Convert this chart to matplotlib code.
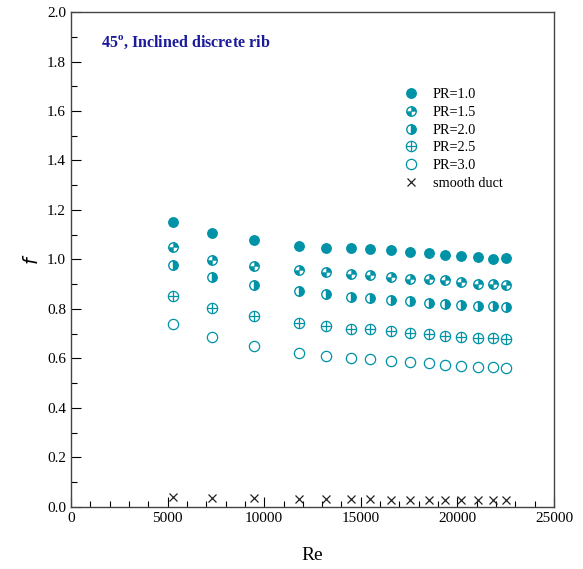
import numpy as np
import matplotlib
matplotlib.use("Agg")
import matplotlib.pyplot as plt
from matplotlib.path import Path
from matplotlib.legend_handler import HandlerTuple
from matplotlib.ticker import MultipleLocator

plt.rcParams['font.family'] = ['Liberation Serif', 'DejaVu Serif']

re = [5300, 7300, 9450, 11780, 13200, 14500, 15500, 16580, 17530, 18530,
      19380, 20200, 21040, 21850, 22540]
f_pr10 = [1.150, 1.106, 1.078, 1.055, 1.048, 1.048, 1.041, 1.038, 1.030, 1.025,
          1.019, 1.014, 1.009, 1.002, 1.005]
f_pr15 = [1.050, 0.998, 0.975, 0.956, 0.949, 0.941, 0.936, 0.928, 0.923, 0.920,
          0.916, 0.908, 0.901, 0.900, 0.897]
f_pr20 = [0.979, 0.928, 0.897, 0.873, 0.859, 0.850, 0.843, 0.836, 0.832, 0.826,
          0.820, 0.816, 0.812, 0.812, 0.809]
f_pr25 = [0.854, 0.803, 0.772, 0.743, 0.733, 0.719, 0.718, 0.711, 0.704, 0.698,
          0.691, 0.688, 0.682, 0.682, 0.679]
f_pr30 = [0.738, 0.686, 0.649, 0.624, 0.611, 0.603, 0.598, 0.590, 0.586, 0.581,
          0.575, 0.571, 0.566, 0.565, 0.563]
f_smooth = [0.040, 0.037, 0.035, 0.033, 0.032, 0.031, 0.031, 0.030, 0.030, 0.029,
            0.029, 0.028, 0.028, 0.028, 0.027]

teal = '#0092a6'
navy = '#1a1a9a'

# custom marker shapes
quarters = Path.make_compound_path(Path.wedge(0, 90), Path.wedge(180, 270))
circ = Path.unit_circle()
plus_circle = Path.make_compound_path(
    circ,
    Path([(-1, 0), (1, 0)], [Path.MOVETO, Path.LINETO]),
    Path([(0, -1), (0, 1)], [Path.MOVETO, Path.LINETO]),
)

fig = plt.figure(figsize=(5.83, 5.69), dpi=100)
ax = fig.add_axes([0.1218, 0.109, 0.8285, 0.8699])

ms = 6.8
h1, = ax.plot(re, f_pr10, 'o', ls='none', color=teal, ms=ms, mec=teal)
h2a, = ax.plot(re, f_pr15, ls='none', marker=quarters, color=teal, ms=ms, mec=teal, mew=0.3)
h2b, = ax.plot(re, f_pr15, 'o', ls='none', mfc='none', mec=teal, ms=ms, mew=1.0)
h3, = ax.plot(re, f_pr20, 'o', ls='none', color=teal, fillstyle='right',
              mfc=teal, mfcalt='white', mec=teal, ms=ms, mew=1.0)
h4, = ax.plot(re, f_pr25, ls='none', marker=plus_circle, mfc='none', mec=teal, ms=ms + 0.6, mew=0.9)
h5, = ax.plot(re, f_pr30, 'o', ls='none', mfc='none', mec=teal, ms=ms + 0.6, mew=0.9)
h6, = ax.plot(re, f_smooth, 'x', ls='none', color='#222222', ms=5.5, mew=0.9)

ax.set_xlim(0, 25000)
ax.set_ylim(0, 2.0)
ax.xaxis.set_major_locator(MultipleLocator(5000))
ax.xaxis.set_minor_locator(MultipleLocator(1000))
ax.yaxis.set_major_locator(MultipleLocator(0.2))
ax.yaxis.set_minor_locator(MultipleLocator(0.1))
ax.yaxis.set_major_formatter(matplotlib.ticker.FormatStrFormatter('%.1f'))
ax.tick_params(which='both', direction='in', labelsize=11, top=False, right=False)
ax.tick_params(which='major', length=7, width=0.8)
ax.tick_params(which='minor', length=4, width=0.8)
for s in ax.spines.values():
    s.set_color('#444444')
    s.set_linewidth(1.0)

ax.set_xlabel('Re', fontsize=14, labelpad=16)
ax.set_ylabel('$f$', fontsize=14, labelpad=4)

ax.text(0.062, 0.939, r'45$^\mathregular{o}$, Inclined discrete rib', transform=ax.transAxes,
        color=navy, fontsize=11.5, fontweight='bold', va='center')

leg = ax.legend([h1, (h2a, h2b), h3, h4, h5, h6],
                ['PR=1.0', 'PR=1.5', 'PR=2.0', 'PR=2.5', 'PR=3.0', 'smooth duct'],
                handler_map={tuple: HandlerTuple(ndivide=1, pad=0)},
                loc='upper left', bbox_to_anchor=(0.66, 0.872), frameon=False,
                fontsize=10.3, handlelength=1.2, handletextpad=0.9, labelspacing=0.33)

fig.savefig('out.png', dpi=100)
